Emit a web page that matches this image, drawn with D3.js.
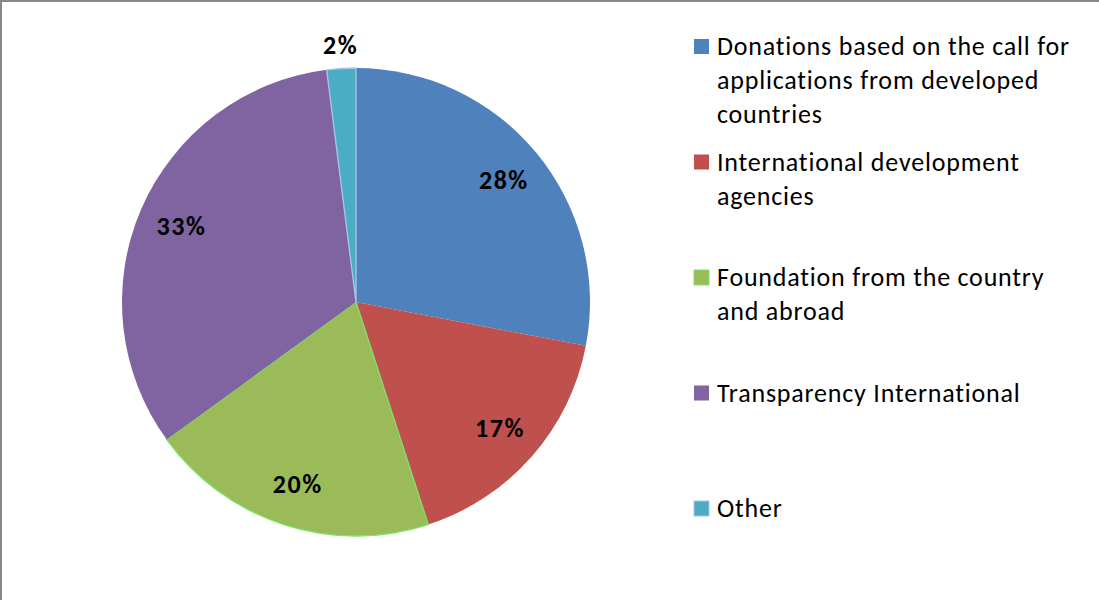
<!DOCTYPE html>
<html>
<head>
<meta charset="utf-8">
<script src="https://cdn.jsdelivr.net/npm/d3@7"></script>
<style>
  html, body { margin: 0; padding: 0; background: #fff; }
  svg { display: block; font-family: Carlito, Calibri, Lato, "Open Sans", sans-serif; }
</style>
</head>
<body>
<svg id="chart" width="1099" height="600"></svg>
<script>
const categories = [
  "Donations based on the call for applications from developed countries",
  "International development agencies",
  "Foundation from the country and abroad",
  "Transparency International",
  "Other"
];
const legendLines = [
  ["Donations based on the call for", "applications from developed", "countries"],
  ["International development", "agencies"],
  ["Foundation from the country", "and abroad"],
  ["Transparency International"],
  ["Other"]
];
const values = [28, 17, 20, 33, 2];
const colors = ["#4F81BD", "#C0504D", "#9BBB59", "#8064A2", "#4BACC6"];
const strokes = ["none", "none", "#7BE36B", "none", "#A9C6E6"];

const svg = d3.select("#chart");
const W = 1099, H = 600;

// chart frame border
svg.append("rect")
  .attr("x", 1).attr("y", 1)
  .attr("width", W + 10).attr("height", H + 10)
  .attr("fill", "#fff")
  .attr("stroke", "#878787").attr("stroke-width", 2);

const cx = 356, cy = 302, R = 234;
const pie = d3.pie().value(d => d).sort(null);
const arcs = pie(values);
const arc = d3.arc().innerRadius(0).outerRadius(R);
const labelArc = d3.arc().innerRadius(191).outerRadius(191);
const outerLabelArc = d3.arc().innerRadius(258).outerRadius(258);

const g = svg.append("g").attr("transform", `translate(${cx},${cy})`);
g.selectAll("path.slice")
  .data(arcs)
  .join("path")
  .attr("class", "slice")
  .attr("d", arc)
  .attr("fill", (d, i) => colors[i])
  .attr("stroke", (d, i) => strokes[i])
  .attr("stroke-width", 1.3)
  .attr("stroke-linejoin", "round");

const total = d3.sum(values);
g.selectAll("text.lbl")
  .data(arcs)
  .join("text")
  .attr("class", "lbl")
  .attr("transform", d => {
    const small = (d.endAngle - d.startAngle) < 0.2;
    const p = (small ? outerLabelArc : labelArc).centroid(d);
    return `translate(${p[0] + 0.75},${p[1]})`;
  })
  .attr("text-anchor", "middle")
  .attr("dy", "0.35em")
  .attr("font-size", 26)
  .attr("letter-spacing", 1.5)
  .attr("font-weight", "bold")
  .attr("fill", "#000")
  .text(d => Math.round(d.data / total * 100) + "%");

// legend
const lg = svg.append("g");
const legendX = 694, firstBase = 55, step = 115.5, lineH = 34;
legendLines.forEach((lines, i) => {
  const base = firstBase + i * step;
  lg.append("rect")
    .attr("x", legendX).attr("y", base - 16)
    .attr("width", 15).attr("height", 15)
    .attr("fill", colors[i])
    .attr("stroke", strokes[i] === "none" ? "none" : strokes[i])
    .attr("stroke-width", 1);
  const t = lg.append("text")
    .attr("x", legendX + 23).attr("y", base)
    .attr("font-size", 26)
    .attr("letter-spacing", 0.8)
    .attr("fill", "#000");
  lines.forEach((ln, j) => {
    t.append("tspan").attr("x", legendX + 23).attr("y", base + j * lineH).text(ln);
  });
});
</script>
</body>
</html>
